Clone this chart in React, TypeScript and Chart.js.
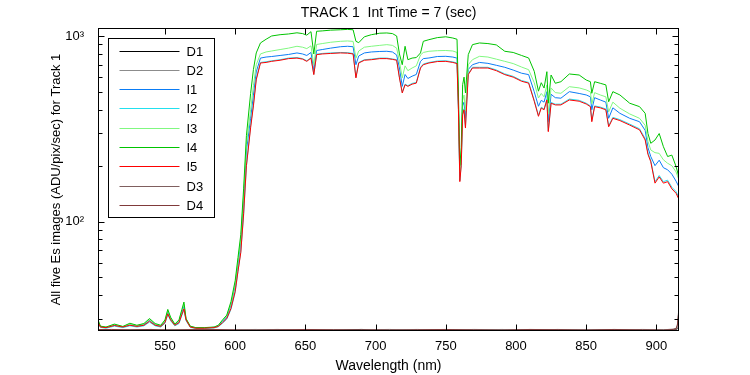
import React, { useEffect, useRef } from "react";
import { Chart, registerables } from "chart.js";

Chart.register(...registerables);

const FONT = "'Liberation Sans', Arial, Helvetica, sans-serif";

const titleText = "TRACK 1  Int Time = 7 (sec)";
const xTitle = "Wavelength (nm)";
const yTitle = "All five Es images (ADU/pix/sec) for Track 1";

const xMin = 502.3;
const xMax = 916.1;
const yMin = 25.7;
const yMax = 1104;

const xTicks = [550, 600, 650, 700, 750, 800, 850, 900];
const yTicks = [30, 40, 50, 60, 70, 80, 90, 100, 200, 300, 400, 500, 600, 700, 800, 900, 1000];
const yMajor = [100, 1000];
const yTickLabels: Record<number, string> = { 100: "10\u00B2", 1000: "10\u00B3" };

const seriesLabels = ["D1", "D2", "I1", "I2", "I3", "I4", "I5", "D3", "D4"];
const seriesColors = ["#000000", "#8c8c8c", "#0a7cf5", "#22e0ee", "#80f880", "#00c400", "#ff0000", "#7f5f5f", "#803a3a"];

// Illuminated spectra (shared wavelength grid)
const wavelengths = [
  502, 504, 508, 514, 520, 525, 530, 535, 539, 543, 547, 550, 552, 554, 557, 560, 562, 563.5, 565, 568,
  572, 578, 585, 588, 591, 594, 597, 600, 602, 604, 606, 608, 611, 613, 615, 618, 622, 626, 632, 638,
  644, 648, 651, 654, 656, 658, 662, 668, 675, 680, 684, 686, 688, 692, 697, 703, 708, 712, 715, 717,
  719, 721, 723, 726, 729, 732, 734, 738, 744, 750, 755, 758, 759, 760, 761, 762, 763, 764, 766, 769,
  774, 780, 786, 792, 798, 804, 809, 813, 816, 818, 820, 822, 823, 825, 828, 832, 838, 845, 850, 853,
  854, 856, 860, 864, 866, 869, 874, 881, 888, 892, 894, 896, 899, 902, 905, 908, 911, 914, 916,
];

const i4 = [
  30.0, 27.3, 27.0, 28.0, 27.2, 28.3, 27.6, 28.2, 30.0, 28.2, 27.6, 29.5, 33.6, 30.5, 28.0, 29.5, 33.5, 36.8, 30.0, 27.3,
  26.8, 26.8, 27.0, 27.6, 29.5, 31.3, 37, 48, 64, 85, 150, 290, 490, 660, 810, 917, 960, 1000, 1016, 1025,
  1040, 1030, 1010, 1055, 800, 1060, 1065, 1075, 1080, 1085, 1080, 936, 920, 990, 1016, 1035, 1038, 1030, 1000, 800,
  700, 880, 745, 760, 765, 810, 936, 955, 980, 990, 975, 960, 493, 200, 250, 546, 600, 493, 793, 898,
  917, 910, 895, 827, 815, 785, 761, 645, 504, 560, 524, 642, 434, 616, 556, 567, 624, 616, 579, 567,
  491, 567, 556, 545, 442, 501, 481, 434, 416, 383, 298, 264, 275, 298, 253, 224, 228, 198, 174,
];

const i3 = [
  29.6, 27.2, 26.9, 27.8, 27.1, 28.0, 27.5, 28.0, 29.6, 28.0, 27.4, 29.2, 33.0, 30.2, 27.8, 29.2, 33.0, 35.8, 29.8, 27.2,
  26.7, 26.7, 26.9, 27.5, 29.2, 31.0, 36, 46, 61, 80, 138, 260, 400, 540, 700, 800, 820, 830, 845, 860,
  880, 870, 855, 885, 700, 900, 910, 925, 936, 940, 935, 760, 830, 870, 880, 890, 898, 890, 860, 730,
  594, 690, 650, 672, 690, 790, 815, 827, 833, 835, 830, 815, 450, 185, 230, 450, 480, 394, 700, 745,
  777, 770, 750, 730, 710, 680, 658, 560, 463, 490, 470, 545, 380, 525, 495, 491, 533, 525, 512, 500,
  430, 495, 481, 470, 390, 440, 408, 380, 360, 330, 270, 243, 235, 233, 215, 206, 200, 185, 168,
];

const i1 = [
  29.3, 27.1, 26.8, 27.6, 27.0, 27.8, 27.3, 27.8, 29.3, 27.8, 27.3, 28.9, 32.5, 29.9, 27.7, 28.9, 32.4, 35.0, 29.6, 27.1,
  26.7, 26.7, 26.9, 27.4, 29.0, 30.6, 35.5, 45, 59, 77, 130, 240, 360, 480, 640, 760, 770, 775, 785, 795,
  810, 800, 785, 815, 650, 835, 845, 860, 875, 880, 875, 700, 780, 810, 820, 825, 827, 820, 790, 672,
  535, 620, 590, 607, 620, 730, 755, 761, 775, 777, 770, 760, 420, 175, 215, 420, 440, 360, 660, 700,
  720, 712, 695, 678, 655, 630, 619, 500, 418, 450, 440, 501, 345, 485, 465, 462, 501, 490, 481, 470,
  400, 465, 452, 440, 360, 410, 383, 360, 345, 310, 250, 224, 200, 214, 195, 190, 180, 165, 154,
];

const i2 = [
  28.8, 26.9, 26.6, 27.3, 26.8, 27.4, 27.0, 27.4, 28.7, 27.4, 27.0, 28.3, 31.5, 29.2, 27.4, 28.2, 31.2, 33.5, 29.2, 26.9,
  26.5, 26.5, 26.7, 27.1, 28.3, 29.8, 33.6, 41.5, 54, 69, 108, 198, 330, 430, 590, 720, 726, 735, 745, 760,
  765, 755, 735, 765, 622, 798, 805, 810, 815, 813, 805, 600, 720, 745, 750, 760, 760, 752, 745, 600,
  497, 550, 540, 555, 562, 678, 706, 720, 733, 735, 725, 715, 405, 166, 204, 380, 405, 323, 625, 678,
  678, 678, 656, 625, 606, 575, 562, 450, 373, 413, 404, 457, 308, 438, 429, 429, 457, 450, 434, 420,
  350, 420, 414, 404, 328, 364, 354, 335, 316, 280, 234, 213, 164, 177, 164, 167, 153, 145, 135,
];

const i5 = [
  29.0, 27.0, 26.8, 27.5, 27.0, 27.6, 27.2, 27.6, 29.0, 27.6, 27.2, 28.5, 31.8, 29.5, 27.6, 28.5, 31.5, 33.8, 29.5, 27.0,
  26.6, 26.6, 26.8, 27.2, 28.5, 30.0, 34, 42, 54, 68, 110, 200, 320, 420, 580, 715, 720, 730, 740, 755,
  760, 750, 730, 760, 619, 793, 800, 805, 810, 808, 800, 594, 715, 740, 745, 755, 755, 748, 740, 594,
  493, 546, 535, 550, 557, 672, 700, 715, 728, 730, 720, 710, 400, 164, 200, 376, 400, 319, 619, 672,
  672, 672, 650, 619, 600, 570, 557, 445, 369, 409, 400, 452, 305, 434, 425, 425, 452, 445, 430, 416,
  345, 416, 410, 400, 324, 360, 350, 331, 312, 275, 230, 210, 161, 174, 161, 164, 150, 142, 132,
];

// Dark spectra
const darkWavelengths = [502, 512, 525, 540, 555, 570, 585, 600, 615, 630, 650, 670, 690, 710, 730, 750, 770, 790, 810, 830, 850, 870, 890, 905, 912, 914, 915, 916];
const d1 = [26.1, 25.9, 26.0, 26.2, 25.9, 26.0, 26.1, 25.9, 26.0, 26.1, 25.9, 26.0, 26.2, 25.9, 26.0, 26.1, 25.9, 26.0, 26.1, 25.9, 26.0, 26.1, 25.9, 26.0, 26.1, 26.2, 26.4, 27.2];
const d2 = [26.0, 26.1, 25.9, 26.0, 26.2, 25.9, 26.0, 26.1, 26.2, 25.9, 26.0, 26.1, 25.9, 26.1, 26.2, 25.9, 26.0, 26.2, 25.9, 26.0, 26.2, 25.9, 26.1, 26.0, 26.2, 26.3, 26.5, 27.6];
const d3 = [26.2, 26.0, 26.1, 25.9, 26.1, 26.2, 25.9, 26.0, 26.1, 26.2, 26.0, 25.9, 26.1, 26.2, 25.9, 26.0, 26.2, 26.1, 26.0, 26.2, 25.9, 26.0, 26.2, 26.1, 26.3, 26.5, 28.0, 34.0];
const d4 = [26.1, 26.2, 26.0, 26.1, 25.9, 26.1, 26.2, 26.0, 25.9, 26.0, 26.2, 26.1, 26.0, 25.9, 26.1, 26.2, 26.0, 25.9, 26.2, 26.1, 26.0, 26.2, 26.0, 25.9, 26.2, 26.4, 27.5, 33.0];

const seriesX = [darkWavelengths, darkWavelengths, wavelengths, wavelengths, wavelengths, wavelengths, wavelengths, darkWavelengths, darkWavelengths];
const seriesY = [d1, d2, i1, i2, i3, i4, i5, d3, d4];

const matlabPlugin = {
  id: "matlabFrame",
  afterDraw(chart: any) {
    const { ctx, chartArea: a, scales } = chart;
    const L = Math.round(a.left) + 0.5;
    const R = Math.round(a.right) - 0.5;
    const T = Math.round(a.top) + 0.5;
    const B = Math.round(a.bottom) - 0.5;
    ctx.save();
    ctx.strokeStyle = "#000";
    ctx.lineWidth = 1;
    ctx.beginPath();
    // x ticks, inward, bottom and top
    scales.x.ticks.forEach((t: any) => {
      const px = Math.round(scales.x.getPixelForValue(t.value)) + 0.5;
      ctx.moveTo(px, B);
      ctx.lineTo(px, B - 6);
      ctx.moveTo(px, T);
      ctx.lineTo(px, T + 6);
    });
    scales.y.ticks.forEach((t: any) => {
      const py = Math.round(scales.y.getPixelForValue(t.value)) + 0.5;
      const len = yMajor.includes(t.value) ? 6 : 4;
      ctx.moveTo(L, py);
      ctx.lineTo(L + len, py);
      ctx.moveTo(R, py);
      ctx.lineTo(R - len, py);
    });
    ctx.stroke();
    ctx.strokeRect(L, T, R - L, B - T);

    // legend box inside the axes
    const lx = Math.round(a.left) + 10.5;
    const ly = Math.round(a.top) + 10.5;
    const lw = 106;
    const lh = 179;
    ctx.fillStyle = "#fff";
    ctx.fillRect(lx, ly, lw, lh);
    ctx.strokeStyle = "#000";
    ctx.strokeRect(lx, ly, lw, lh);
    ctx.font = `13px ${FONT}`;
    ctx.textBaseline = "middle";
    ctx.textAlign = "left";
    chart.data.datasets.forEach((ds: any, i: number) => {
      const y = Math.round(ly + 12 + i * 19.3) + 0.5;
      ctx.strokeStyle = ds.borderColor;
      ctx.beginPath();
      ctx.moveTo(lx + 11, y);
      ctx.lineTo(lx + 71, y);
      ctx.stroke();
      ctx.fillStyle = "#000";
      ctx.fillText(ds.label, lx + 78, y + 1);
    });
    ctx.restore();
  },
};

export default function App() {
  const canvasRef = useRef<HTMLCanvasElement | null>(null);

  useEffect(() => {
    const canvas = canvasRef.current;
    if (!canvas) return;
    const n = seriesLabels.length;
    const datasets = seriesLabels.map((label, i) => ({
      label,
      data: seriesX[i].map((x, k) => ({ x, y: seriesY[i][k] })),
      borderColor: seriesColors[i],
      backgroundColor: seriesColors[i],
      borderWidth: 1,
      pointRadius: 0,
      tension: 0,
      fill: false,
      order: n - i,
    }));
    const chart = new Chart(canvas, {
      type: "line",
      data: { datasets },
      options: {
        animation: false,
        responsive: false,
        devicePixelRatio: 1,
        layout: { padding: { left: 0, right: 71, top: 0, bottom: 0 } },
        plugins: {
          legend: { display: false },
          tooltip: { enabled: false },
          title: {
            display: true,
            text: titleText,
            color: "#000",
            fullSize: false,
            font: { family: FONT, size: 14, weight: "normal" },
            padding: { top: 5, bottom: 6.2 },
          },
        },
        scales: {
          x: {
            type: "linear",
            min: xMin,
            max: xMax,
            afterBuildTicks: (s: any) => {
              s.ticks = xTicks.map((v) => ({ value: v }));
            },
            afterFit: (s: any) => {
              s.height = 44;
            },
            grid: { display: false },
            border: { display: false },
            ticks: {
              color: "#000",
              font: { family: FONT, size: 13 },
              padding: 0,
              maxRotation: 0,
              autoSkip: false,
              callback: (v: any) => String(v),
            },
            title: {
              display: true,
              text: xTitle,
              color: "#000",
              font: { family: FONT, size: 14 },
              padding: { top: 0, bottom: 0.6 },
            },
          },
          y: {
            type: "logarithmic",
            min: yMin,
            max: yMax,
            afterBuildTicks: (s: any) => {
              s.ticks = yTicks.map((v) => ({ value: v, major: yMajor.includes(v) }));
            },
            afterFit: (s: any) => {
              s.width = 98;
            },
            grid: { display: false },
            border: { display: false },
            ticks: {
              color: "#000",
              font: { family: FONT, size: 13 },
              padding: 6,
              autoSkip: false,
              callback: (v: any) => yTickLabels[v as number] || "",
            },
            title: {
              display: true,
              text: yTitle,
              color: "#000",
              font: { family: FONT, size: 13 },
              padding: { top: 48.2, bottom: 0 },
            },
          },
        },
      },
      plugins: [matlabPlugin],
    } as any);
    return () => chart.destroy();
  }, []);

  return (
    <div style={{ position: "fixed", left: 0, top: 0, width: 750, height: 375, background: "#fff" }}>
      <canvas ref={canvasRef} width={750} height={375} style={{ display: "block" }} />
    </div>
  );
}
